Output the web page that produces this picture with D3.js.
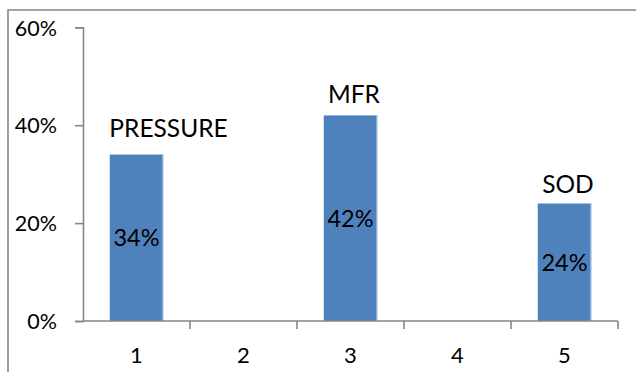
<!DOCTYPE html>
<html>
<head>
<meta charset="utf-8">
<script src="https://cdn.jsdelivr.net/npm/d3@7"></script>
<style>
  html, body { margin: 0; padding: 0; background: #fff; }
  svg { display: block; font-family: Lato, "Open Sans", sans-serif; }
</style>
</head>
<body>
<svg id="chart" width="636" height="372"></svg>
<script>
// Chart data
const categories = ["1", "2", "3", "4", "5"];
const shares = [0.34, null, 0.42, null, 0.24];
const seriesNames = ["PRESSURE", "", "MFR", "", "SOD"];
const yTicks = [0, 0.2, 0.4, 0.6];

const W = 636, H = 372;
const plot = { left: 83, right: 618, top: 27.3, bottom: 321 };
const axisColor = "#868686";
const barColor = "#4F81BD";

const svg = d3.select("#chart");

// Outer frame (left and top edges)
svg.append("path")
  .attr("d", `M8,${H} V10 H${W}`)
  .attr("fill", "none")
  .attr("stroke", axisColor)
  .attr("stroke-width", 1.6);

const x = d3.scaleBand()
  .domain(categories)
  .range([plot.left, plot.right])
  .paddingInner(0.5)
  .paddingOuter(0.25);

const y = d3.scaleLinear()
  .domain([0, 0.6])
  .range([plot.bottom, plot.top]);

// Y axis
const yAxis = svg.append("g")
  .attr("transform", `translate(${plot.left},0)`)
  .call(d3.axisLeft(y).tickValues(yTicks).tickFormat(d3.format(".0%")).tickSize(8).tickPadding(18));
yAxis.select(".domain").attr("stroke", axisColor).attr("stroke-width", 1.6);
yAxis.selectAll(".tick line").attr("stroke", axisColor).attr("stroke-width", 1.6);
yAxis.selectAll(".tick text")
  .attr("fill", "#000")
  .attr("font-size", 21.5)
  .attr("font-family", "Lato, sans-serif")
  .attr("dy", "0.36em");

// Bars
const rows = categories.map((c, i) => ({ cat: c, v: shares[i], name: seriesNames[i] }))
  .filter(d => d.v != null);

svg.append("g").selectAll("rect")
  .data(rows)
  .join("rect")
  .attr("x", d => x(d.cat))
  .attr("y", d => y(d.v))
  .attr("width", x.bandwidth())
  .attr("height", d => y(0) - y(d.v))
  .attr("fill", barColor);

// light right edge on each bar
svg.append("g").selectAll("line")
  .data(rows)
  .join("line")
  .attr("x1", d => x(d.cat) + x.bandwidth() - 0.5)
  .attr("x2", d => x(d.cat) + x.bandwidth() - 0.5)
  .attr("y1", d => y(d.v))
  .attr("y2", y(0))
  .attr("stroke", "#a7bfe0")
  .attr("stroke-width", 1);

// X axis: line, boundary ticks and centred category labels
const xg = svg.append("g");
xg.append("line")
  .attr("x1", plot.left).attr("x2", plot.right)
  .attr("y1", plot.bottom).attr("y2", plot.bottom)
  .attr("stroke", axisColor).attr("stroke-width", 1.6);
const bounds = d3.range(categories.length + 1).map(i => plot.left + i * x.step());
xg.selectAll("line.tick")
  .data(bounds.slice(1))
  .join("line")
  .attr("class", "tick")
  .attr("x1", d => d).attr("x2", d => d)
  .attr("y1", plot.bottom).attr("y2", plot.bottom + 8)
  .attr("stroke", axisColor).attr("stroke-width", 1.6);
xg.selectAll("text")
  .data(categories)
  .join("text")
  .attr("x", d => x(d) + x.bandwidth() / 2)
  .attr("y", 363)
  .attr("text-anchor", "middle")
  .attr("font-size", 22)
  .attr("fill", "#000")
  .text(d => d);

// Value labels inside bars
svg.append("g").selectAll("text")
  .data(rows)
  .join("text")
  .attr("x", d => x(d.cat) + x.bandwidth() / 2)
  .attr("y", d => (y(d.v) + y(0)) / 2 + 8.5)
  .attr("text-anchor", "middle")
  .attr("font-size", 23.5)
  .attr("fill", "#000")
  .text(d => d3.format(".0%")(d.v));

// Series name labels above bars
const nameShift = { "PRESSURE": [32, -18], "MFR": [3.5, -12], "SOD": [3.5, -11] };
svg.append("g").selectAll("text")
  .data(rows)
  .join("text")
  .attr("x", d => x(d.cat) + x.bandwidth() / 2 + nameShift[d.name][0])
  .attr("y", d => y(d.v) + nameShift[d.name][1])
  .attr("text-anchor", "middle")
  .attr("font-size", 24.5)
  .attr("fill", "#000")
  .text(d => d.name);
</script>
</body>
</html>
